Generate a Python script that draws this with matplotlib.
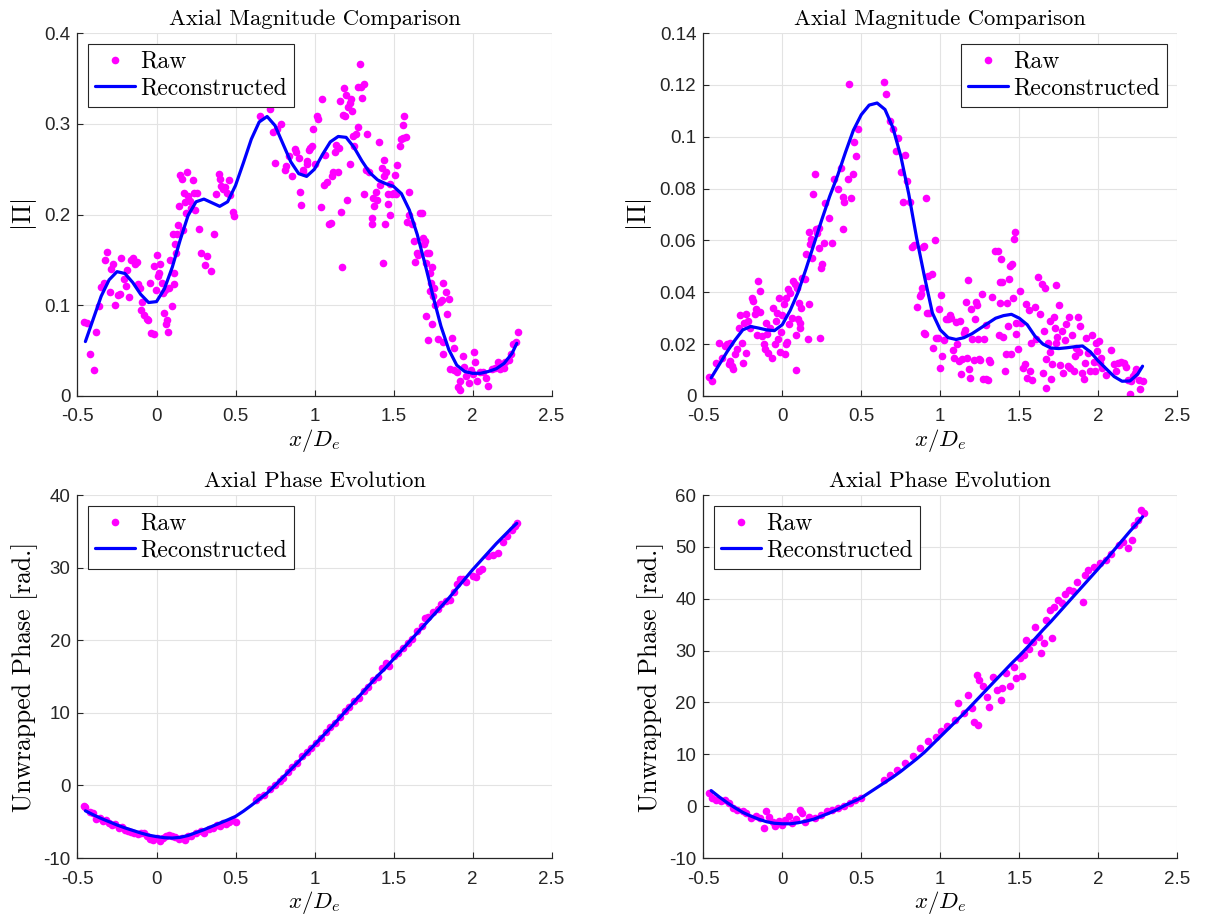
import numpy as np
import matplotlib
matplotlib.use("Agg")
import matplotlib.pyplot as plt
from matplotlib.ticker import FuncFormatter

curve_x = [-0.45, -0.40, -0.35, -0.30, -0.25, -0.20, -0.15, -0.10, -0.05, 0.00,
           0.05, 0.10, 0.15, 0.20, 0.25, 0.30, 0.35, 0.40, 0.45, 0.50,
           0.55, 0.60, 0.65, 0.70, 0.75, 0.80, 0.85, 0.90, 0.95, 1.00,
           1.05, 1.10, 1.15, 1.20, 1.25, 1.30, 1.35, 1.40, 1.45, 1.50,
           1.55, 1.60, 1.65, 1.70, 1.75, 1.80, 1.85, 1.90, 1.95, 2.00,
           2.05, 2.10, 2.15, 2.20, 2.25, 2.28]

mag1_fit = [0.060, 0.085, 0.110, 0.128, 0.137, 0.135, 0.125, 0.112, 0.103, 0.104,
            0.118, 0.142, 0.172, 0.199, 0.214, 0.217, 0.213, 0.209, 0.214, 0.232,
            0.257, 0.283, 0.302, 0.308, 0.298, 0.278, 0.258, 0.245, 0.242, 0.250,
            0.266, 0.280, 0.286, 0.285, 0.274, 0.259, 0.246, 0.238, 0.234, 0.231,
            0.223, 0.205, 0.178, 0.145, 0.110, 0.077, 0.051, 0.034, 0.027, 0.025,
            0.025, 0.027, 0.030, 0.036, 0.047, 0.058]

mag2_fit = [0.0070, 0.0120, 0.0170, 0.0215, 0.0255, 0.0268, 0.0262, 0.0255, 0.0252, 0.0275,
            0.033, 0.040, 0.049, 0.0585, 0.068, 0.077, 0.085, 0.094, 0.1025, 0.1085,
            0.1122, 0.1130, 0.1105, 0.1035, 0.0925, 0.078, 0.061, 0.046, 0.032, 0.0255,
            0.0225, 0.0218, 0.0225, 0.024, 0.026, 0.028, 0.030, 0.031, 0.0315, 0.030,
            0.0275, 0.023, 0.020, 0.0185, 0.0183, 0.0186, 0.019, 0.0193, 0.017, 0.0135,
            0.0105, 0.0075, 0.0057, 0.0058, 0.0085, 0.0115]

phase1_fit = [-3.5, -4.05, -4.55, -5.0, -5.45, -5.85, -6.2, -6.55, -6.85, -7.05,
              -7.2, -7.25, -7.15, -6.9, -6.5, -6.1, -5.65, -5.2, -4.75, -4.27,
              -3.55, -2.75, -1.9, -1.05, 0.0, 1.1, 2.2, 3.3, 4.45, 5.6,
              6.75, 7.9, 9.1, 10.3, 11.5, 12.7, 13.9, 15.1, 16.2, 17.4,
              18.6, 19.8, 21.0, 22.2, 23.4, 24.6, 25.8, 27.1, 28.4, 29.7,
              30.9, 32.1, 33.3, 34.4, 35.5, 36.1]

phase2_fit = [3.0, 1.8, 0.7, -0.3, -1.2, -1.9, -2.5, -3.0, -3.3, -3.4,
              -3.4, -3.2, -2.9, -2.5, -1.9, -1.3, -0.6, 0.2, 0.9, 1.6,
              2.6, 3.6, 4.6, 5.6, 6.7, 7.9, 9.1, 10.4, 11.9, 13.4,
              14.9, 16.4, 17.9, 19.5, 21.1, 22.7, 24.3, 25.9, 27.5, 29.0,
              30.6, 32.3, 34.0, 35.6, 37.3, 39.0, 40.7, 42.4, 44.1, 45.8,
              47.6, 49.4, 51.2, 53.0, 54.7, 55.8]

mag1_raw_x = [-0.457, -0.440, -0.419, -0.398, -0.381, -0.366, -0.351, -0.334, -0.323, -0.313,
              -0.296, -0.287, -0.274, -0.260, -0.245, -0.228, -0.223, -0.206, -0.196, -0.189,
              -0.174, -0.164, -0.147, -0.138, -0.121, -0.117, -0.104, -0.100, -0.089, -0.079,
              -0.062, -0.053, -0.040, -0.036, -0.019, -0.015, -0.004, 0.002, 0.011, 0.017,
              0.023, 0.032, 0.038, 0.049, 0.053, 0.060, 0.066, 0.074, 0.081, 0.087,
              0.096, 0.102, 0.109, 0.113, 0.117, 0.123, 0.130, 0.134, 0.145, 0.151,
              0.160, 0.166, 0.172, 0.181, 0.187, 0.194, 0.202, 0.209, 0.219, 0.230,
              0.236, 0.245, 0.257, 0.266, 0.283, 0.304, 0.321, 0.343, 0.364, 0.379,
              0.394, 0.402, 0.411, 0.421, 0.432, 0.443, 0.457, 0.464, 0.485, 0.491,
              0.657, 0.721, 0.736, 0.762, 0.789, 0.751, 0.811, 0.819, 0.840, 0.874,
              0.883, 0.904, 0.911, 0.917, 0.857, 0.926, 0.953, 0.974,
              0.930, 0.951, 0.968, 0.983, 0.989, 1.004, 1.015, 1.025, 1.040, 1.046,
              1.057, 1.068, 1.078, 1.089, 1.103, 1.110, 1.120, 1.131, 1.137, 1.146,
              1.158, 1.162, 1.167, 1.173, 1.179, 1.184, 1.194, 1.200, 1.205, 1.215,
              1.222, 1.226, 1.230, 1.236, 1.243, 1.251, 1.264, 1.272, 1.278, 1.289,
              1.293, 1.300, 1.310, 1.314, 1.327, 1.331, 1.342, 1.363, 1.363, 1.373,
              1.378, 1.390, 1.395, 1.407, 1.416, 1.426, 1.432, 1.437, 1.441, 1.447,
              1.454, 1.462, 1.468, 1.475, 1.479, 1.489, 1.500, 1.511, 1.517, 1.525,
              1.542, 1.546, 1.559, 1.563, 1.568, 1.580, 1.595, 1.595, 1.584, 1.616,
              1.631, 1.637, 1.648, 1.658, 1.669, 1.679, 1.686, 1.694, 1.700, 1.707,
              1.711, 1.722, 1.728, 1.736, 1.743, 1.732, 1.749, 1.757, 1.764, 1.795,
              1.806, 1.812, 1.833, 1.854, 1.707, 1.743, 1.715, 1.781, 1.838, 1.816,
              1.812, 1.869, 1.884, 1.859, 1.884, 1.901, 1.922, 1.905, 1.918, 1.939,
              1.949, 1.960, 1.975, 1.989, 2.002, 2.011, 2.017, 2.027, 2.049, 2.065,
              2.086, 2.101, 2.122, 2.143, 2.158, 2.175, 2.196, 2.207, 2.228, 2.243,
              2.259, 2.276, 2.287]
mag1_raw_y = [0.081, 0.080, 0.046, 0.029, 0.070, 0.099, 0.120, 0.125, 0.150, 0.159,
              0.115, 0.140, 0.145, 0.100, 0.111, 0.112, 0.152, 0.129, 0.121, 0.139,
              0.109, 0.150, 0.152, 0.145, 0.148, 0.123, 0.119, 0.095, 0.104, 0.089,
              0.085, 0.084, 0.125, 0.069, 0.068, 0.143, 0.117, 0.155, 0.132, 0.136,
              0.145, 0.125, 0.114, 0.092, 0.117, 0.079, 0.084, 0.070, 0.119, 0.150,
              0.099, 0.178, 0.136, 0.123, 0.167, 0.158, 0.179, 0.188, 0.209, 0.244,
              0.239, 0.183, 0.224, 0.214, 0.202, 0.247, 0.220, 0.215, 0.207, 0.238,
              0.224, 0.205, 0.224, 0.184, 0.158, 0.144, 0.154, 0.138, 0.178, 0.223,
              0.245, 0.239, 0.231, 0.228, 0.230, 0.224, 0.238, 0.221, 0.203, 0.198,
              0.308, 0.316, 0.291, 0.294, 0.300, 0.257, 0.249, 0.253, 0.264, 0.272,
              0.269, 0.262, 0.225, 0.211, 0.242, 0.249, 0.256, 0.273,
              0.247, 0.259, 0.271, 0.275, 0.294, 0.256, 0.308, 0.305, 0.208, 0.327,
              0.233, 0.266, 0.236, 0.189, 0.191, 0.242, 0.247, 0.269, 0.277, 0.247,
              0.273, 0.325, 0.203, 0.142, 0.310, 0.339, 0.308, 0.332, 0.216, 0.319,
              0.323, 0.256, 0.327, 0.314, 0.286, 0.275, 0.289, 0.341, 0.296, 0.366,
              0.341, 0.328, 0.344, 0.223, 0.249, 0.289, 0.247, 0.196, 0.189, 0.218,
              0.209, 0.225, 0.216, 0.280, 0.232, 0.251, 0.147, 0.242, 0.260, 0.189,
              0.247, 0.212, 0.223, 0.199, 0.234, 0.223, 0.224, 0.244, 0.223, 0.255,
              0.275, 0.283, 0.284, 0.299, 0.308, 0.285, 0.225, 0.200, 0.192, 0.190,
              0.171, 0.148, 0.158, 0.155, 0.202, 0.202, 0.174, 0.168, 0.171, 0.147,
              0.158, 0.158, 0.136, 0.124, 0.142, 0.116, 0.110, 0.119, 0.100, 0.104,
              0.106, 0.124, 0.115, 0.107, 0.088, 0.079, 0.062, 0.063, 0.090, 0.046,
              0.059, 0.064, 0.053, 0.030, 0.029, 0.026, 0.016, 0.010, 0.007, 0.044,
              0.032, 0.022, 0.014, 0.029, 0.024, 0.048, 0.038, 0.016, 0.026, 0.026,
              0.020, 0.011, 0.030, 0.031, 0.038, 0.030, 0.031, 0.038, 0.040, 0.046,
              0.057, 0.059, 0.070]

mag2_raw_x = [-0.462, -0.447, -0.420, -0.399, -0.384, -0.363, -0.349, -0.336, -0.332, -0.321,
              -0.315, -0.328, -0.300, -0.286, -0.273, -0.265, -0.258, -0.248, -0.244, -0.231,
              -0.227, -0.216, -0.202, -0.189, -0.185, -0.174, -0.168, -0.160, -0.153, -0.143,
              -0.139, -0.126, -0.118, -0.111, -0.101, -0.097, -0.090, -0.080, -0.063, -0.059,
              -0.048, -0.042, -0.034, -0.027, -0.021, -0.017, -0.006, 0.000, 0.008, 0.015,
              0.021, 0.025, 0.029, 0.036, 0.042, 0.050, 0.063, 0.067, 0.078, 0.084,
              0.088, 0.092, 0.099, 0.105, 0.109, 0.113, 0.120, 0.126, 0.141, 0.147,
              0.162, 0.168, 0.172, 0.176, 0.183, 0.189, 0.197, 0.204, 0.214, 0.218,
              0.231, 0.235, 0.239, 0.246, 0.252, 0.261, 0.273, 0.294, 0.315, 0.330,
              0.351, 0.372, 0.382, 0.387, 0.393, 0.414, 0.424, 0.435, 0.445, 0.456,
              0.466, 0.477, 0.645, 0.655, 0.681, 0.702, 0.718, 0.735, 0.750, 0.765,
              0.777, 0.792, 0.807, 0.824, 0.834, 0.855, 0.870, 0.887, 0.897, 0.893,
              0.908, 0.918, 0.924,
              0.880, 0.895, 0.901, 0.929, 0.949, 0.954, 0.964, 0.970, 0.985, 0.992,
              1.000, 1.006, 1.013, 1.021, 1.034, 1.049, 1.059, 1.070, 1.080, 1.089,
              1.097, 1.105, 1.118, 1.127, 1.133, 1.139, 1.148, 1.154, 1.160, 1.169,
              1.175, 1.181, 1.186, 1.196, 1.203, 1.211, 1.217, 1.228, 1.232, 1.238,
              1.245, 1.253, 1.262, 1.270, 1.274, 1.287, 1.291, 1.302, 1.308, 1.316,
              1.329, 1.344, 1.365, 1.371, 1.376, 1.380, 1.386, 1.392, 1.397, 1.407,
              1.414, 1.422, 1.430, 1.435, 1.443, 1.449, 1.456, 1.460, 1.464, 1.470,
              1.477, 1.481, 1.492, 1.502, 1.513, 1.523, 1.534, 1.540, 1.549, 1.561,
              1.565, 1.576, 1.582, 1.597, 1.603, 1.618, 1.633, 1.646, 1.650, 1.656,
              1.660, 1.667, 1.671, 1.681, 1.692, 1.696, 1.703, 1.709, 1.717, 1.724,
              1.730, 1.734, 1.738, 1.751, 1.755, 1.772, 1.776, 1.787, 1.797, 1.808,
              1.814, 1.823, 1.835, 1.844, 1.850, 1.861, 1.871, 1.878, 1.886, 1.899,
              1.907, 1.913, 1.924, 1.935, 1.945, 1.962, 1.970, 1.977, 1.983, 1.992,
              2.004, 2.008, 2.019, 2.025, 2.046, 2.082, 2.097, 2.114, 2.124, 2.146,
              2.160, 2.173, 2.188, 2.198, 2.209, 2.219, 2.230, 2.241, 2.257, 2.266,
              2.283]
mag2_raw_y = [0.0075, 0.0058, 0.0126, 0.0206, 0.0148, 0.0193, 0.0199, 0.0122, 0.0135, 0.0116,
              0.0103, 0.0206, 0.0161, 0.0180, 0.0263, 0.0311, 0.0203, 0.0126, 0.0280, 0.0315,
              0.0167, 0.0289, 0.0263, 0.0379, 0.0366, 0.0315, 0.0337, 0.0234, 0.0443, 0.0405,
              0.0324, 0.0231, 0.0199, 0.0183, 0.0280, 0.0238, 0.0167, 0.0263, 0.0148, 0.0341,
              0.0199, 0.0289, 0.0321, 0.0221, 0.0379, 0.0170, 0.0247, 0.0311, 0.0353, 0.0161,
              0.0199, 0.0379, 0.0208, 0.0411, 0.0276, 0.0398, 0.0302, 0.0443, 0.0431, 0.0234,
              0.0100, 0.0418, 0.0298, 0.0360, 0.0283, 0.0263, 0.0341, 0.0456, 0.0452, 0.0546,
              0.0219, 0.0353, 0.0632, 0.0585, 0.0604, 0.0533, 0.0778, 0.0855, 0.0645, 0.0627,
              0.0649, 0.0572, 0.0225, 0.0495, 0.0508, 0.0591, 0.0746, 0.0688, 0.0591, 0.0838,
              0.0797, 0.0880, 0.0643, 0.0769, 0.0748, 0.0838, 0.1202, 0.0765, 0.0857, 0.0979,
              0.0925, 0.1028, 0.1212, 0.1163, 0.1060, 0.1028, 0.0945, 0.0996, 0.0864, 0.0748,
              0.0928, 0.0829, 0.0748, 0.0576, 0.0581, 0.0344, 0.0386, 0.0418, 0.0242, 0.0576,
              0.0762, 0.0319, 0.0463,
              0.0392, 0.0578, 0.0238, 0.0321, 0.0469, 0.0186, 0.0602, 0.0225, 0.0225, 0.0334,
              0.0109, 0.0389, 0.0154, 0.0216, 0.0296, 0.0296, 0.0311, 0.0302, 0.0177, 0.0148,
              0.0285, 0.0199, 0.0135, 0.0289, 0.0084, 0.0141, 0.0244, 0.0254, 0.0362, 0.0148,
              0.0447, 0.0105, 0.0071, 0.0334, 0.0221, 0.0139, 0.0296, 0.0362, 0.0350, 0.0219,
              0.0141, 0.0139, 0.0392, 0.0064, 0.0219, 0.0272, 0.0067, 0.0062, 0.0139, 0.0131,
              0.0383, 0.0559, 0.0559, 0.0234, 0.0357, 0.0440, 0.0530, 0.0440, 0.0229, 0.0096,
              0.0161, 0.0357, 0.0270, 0.0450, 0.0501, 0.0161, 0.0511, 0.0379, 0.0604, 0.0632,
              0.0238, 0.0280, 0.0180, 0.0405, 0.0283, 0.0109, 0.0122, 0.0353, 0.0071, 0.0332,
              0.0096, 0.0206, 0.0062, 0.0344, 0.0219, 0.0460, 0.0315, 0.0431, 0.0087, 0.0251,
              0.0418, 0.0032, 0.0141, 0.0203, 0.0289, 0.0170, 0.0067, 0.0122, 0.0306, 0.0263,
              0.0203, 0.0427, 0.0229, 0.0350, 0.0118, 0.0251, 0.0087, 0.0216, 0.0276, 0.0116,
              0.0306, 0.0109, 0.0234, 0.0096, 0.0154, 0.0186, 0.0306, 0.0170, 0.0270, 0.0090,
              0.0067, 0.0126, 0.0225, 0.0165, 0.0096, 0.0234, 0.0131, 0.0096, 0.0206, 0.0174,
              0.0212, 0.0129, 0.0148, 0.0109, 0.0080, 0.0177, 0.0122, 0.0096, 0.0129, 0.0131,
              0.0129, 0.0113, 0.0062, 0.0006, 0.0058, 0.0077, 0.0090, 0.0105, 0.0062, 0.0026,
              0.0058]

phase1_raw_x = [-0.46, -0.45, -0.42, -0.40, -0.38, -0.36, -0.34, -0.32, -0.30, -0.28,
                -0.26, -0.24, -0.22, -0.20, -0.18, -0.16, -0.14, -0.12, -0.10, -0.08,
                -0.06, -0.04, -0.02, 0.00, 0.02, 0.04, 0.06, 0.08, 0.10, 0.12,
                0.14, 0.16, 0.18, 0.20, 0.22, 0.25, 0.28, 0.30, 0.33, 0.36,
                0.38, 0.40, 0.42, 0.44, 0.46, 0.48, 0.50, 0.63, 0.65, 0.68,
                0.72, 0.75, 0.78, 0.80, 0.83, 0.86, 0.89, 0.92, 0.95, 0.98,
                1.01, 1.04, 1.07, 1.10, 1.13, 1.16, 1.19, 1.22, 1.25, 1.28,
                1.31, 1.34, 1.37, 1.40, 1.43, 1.45, 1.47, 1.50, 1.53, 1.56,
                1.59, 1.62, 1.65, 1.68, 1.70, 1.72, 1.75, 1.78, 1.80, 1.83,
                1.86, 1.88, 1.90, 1.92, 1.94, 1.96, 2.00, 2.02, 2.04, 2.06,
                2.10, 2.13, 2.16, 2.19, 2.22, 2.25, 2.27, 2.28]
phase1_raw_y = [-2.8, -3.0, -3.6, -3.8, -4.6, -4.5, -4.9, -4.8, -5.2, -5.4,
                -5.3, -5.8, -5.7, -6.1, -6.3, -6.4, -6.6, -6.7, -6.6, -6.5,
                -6.9, -7.4, -7.5, -7.3, -7.7, -7.2, -6.9, -6.8, -7.0, -7.1,
                -7.4, -7.2, -7.5, -7.0, -6.9, -6.6, -6.3, -6.5, -6.0, -5.8,
                -5.5, -5.6, -5.2, -5.3, -5.0, -4.8, -5.0, -2.0, -1.6, -1.3,
                -0.5, 0.0, 0.6, 1.0, 1.8, 2.6, 3.1, 4.0, 4.6, 5.2,
                5.9, 6.5, 7.3, 8.0, 8.6, 9.4, 10.2, 10.8, 11.6, 12.0,
                13.0, 13.5, 14.5, 15.0, 16.2, 16.8, 16.5, 17.8, 18.2, 18.9,
                19.6, 20.2, 21.3, 22.0, 23.0, 23.2, 23.9, 24.3, 25.0, 25.4,
                25.6, 26.6, 27.8, 28.4, 28.5, 28.0, 28.8, 28.7, 29.6, 29.8,
                31.6, 31.8, 32.0, 33.5, 34.4, 35.2, 35.8, 36.1]

phase2_raw_x = [-0.461, -0.444, -0.420, -0.390, -0.360, -0.336, -0.310, -0.287, -0.250, -0.227,
                -0.195, -0.166, -0.142, -0.118, -0.106, -0.082, -0.058, -0.045, -0.021, 0.000,
                0.019, 0.044, 0.061, 0.085, 0.110, 0.122, 0.146, 0.170, 0.207, 0.245,
                0.281, 0.317, 0.353, 0.390, 0.426, 0.462, 0.497, 0.644, 0.680, 0.728,
                0.777, 0.825, 0.873, 0.922, 0.970, 1.006, 1.042, 1.091, 1.115, 1.151,
                1.175, 1.200, 1.212, 1.236, 1.231, 1.248, 1.272, 1.296, 1.309, 1.333,
                1.357, 1.381, 1.393, 1.417, 1.441, 1.466, 1.478, 1.502, 1.514, 1.531,
                1.545, 1.562, 1.587, 1.599, 1.623, 1.635, 1.659, 1.671, 1.696, 1.708,
                1.720, 1.744, 1.768, 1.792, 1.816, 1.840, 1.865, 1.901, 1.913, 1.937,
                1.974, 2.010, 2.046, 2.082, 2.131, 2.155, 2.191, 2.215, 2.227, 2.251,
                2.270, 2.288]
phase2_raw_y = [2.5, 1.5, 1.2, 0.9, 1.1, 0.6, -0.4, -0.7, -1.0, -1.3,
                -2.3, -1.9, -2.3, -4.2, -1.0, -2.0, -3.0, -3.9, -2.8, -3.6,
                -2.6, -1.9, -3.3, -2.5, -0.7, -1.3, -3.0, -2.0, -2.3, -1.7,
                -1.0, -0.8, -0.4, 0.1, 0.6, 1.1, 1.5, 5.1, 6.0, 7.0,
                8.3, 9.6, 11.2, 12.5, 13.4, 14.4, 15.4, 16.6, 19.8, 17.9,
                21.5, 18.9, 16.3, 15.7, 25.3, 24.3, 23.1, 21.1, 19.2, 25.0,
                22.4, 20.5, 22.7, 25.6, 23.1, 26.9, 24.7, 28.5, 25.1, 29.2,
                32.0, 30.4, 31.7, 34.6, 32.7, 29.5, 31.4, 35.9, 37.8, 32.4,
                38.5, 39.8, 39.1, 41.0, 41.7, 41.4, 43.3, 39.4, 44.6, 45.5,
                46.2, 46.8, 47.5, 48.7, 50.4, 51.0, 49.7, 51.3, 54.2, 55.2,
                57.1, 56.5]

# --- style ---
plt.rcParams["font.family"] = "Liberation Sans"
plt.rcParams["mathtext.fontset"] = "cm"
plt.rcParams["axes.unicode_minus"] = False

CM = "cmr10"
RAW_COLOR = "#ff00ff"
FIT_COLOR = "#0000ff"
AX_COLOR = "#262626"

fmt = FuncFormatter(lambda v, p: "%g" % round(v, 6))


def style_axes(ax, ylim, yticks, title, ylabel, legend_loc):
    ax.set_xlim(-0.5, 2.5)
    ax.set_ylim(*ylim)
    ax.set_xticks([-0.5, 0, 0.5, 1, 1.5, 2, 2.5])
    ax.set_yticks(yticks)
    ax.xaxis.set_major_formatter(fmt)
    ax.yaxis.set_major_formatter(fmt)
    ax.grid(True, color="#e3e3e3", linewidth=0.8)
    ax.set_axisbelow(True)
    for side in ["top", "right"]:
        ax.spines[side].set_visible(False)
    for side in ["left", "bottom"]:
        ax.spines[side].set_color(AX_COLOR)
        ax.spines[side].set_linewidth(0.9)
    ax.tick_params(direction="in", length=4, width=0.8, colors=AX_COLOR,
                   labelsize=13.5)
    ax.tick_params(axis="x", pad=9)
    ax.tick_params(axis="y", pad=5)
    ax.set_title(title, fontfamily=CM, fontsize=16.3, pad=6)
    ax.set_xlabel(r"$x/D_e$", fontsize=16.5, labelpad=1)
    ax.set_ylabel(ylabel, fontfamily=CM, fontsize=18.5, labelpad=4)
    leg = ax.legend(loc=legend_loc, prop={"family": CM, "size": 17},
                    fancybox=False, edgecolor="#262626", framealpha=1,
                    borderaxespad=0.45, numpoints=1, handlelength=1.7,
                    handletextpad=0.2, borderpad=0.3, labelspacing=0.2)
    leg.get_frame().set_linewidth(0.8)


fig = plt.figure(figsize=(12.09, 9.22), dpi=100)
w, h = 0.3921, 0.3937
ax1 = fig.add_axes([0.0641, 0.5705, w, h])
ax2 = fig.add_axes([0.5817, 0.5705, w, h])
ax3 = fig.add_axes([0.0641, 0.0694, w, h])
ax4 = fig.add_axes([0.5817, 0.0694, w, h])

panels = [
    (ax1, mag1_raw_x, mag1_raw_y, mag1_fit, (0, 0.4), [0, 0.1, 0.2, 0.3, 0.4],
     "Axial Magnitude Comparison", r"$|\Pi|$", "upper left"),
    (ax2, mag2_raw_x, mag2_raw_y, mag2_fit, (0, 0.14),
     [0, 0.02, 0.04, 0.06, 0.08, 0.1, 0.12, 0.14],
     "Axial Magnitude Comparison", r"$|\Pi|$", "upper right"),
    (ax3, phase1_raw_x, phase1_raw_y, phase1_fit, (-10, 40),
     [-10, 0, 10, 20, 30, 40],
     "Axial Phase Evolution", "Unwrapped Phase [rad.]", "upper left"),
    (ax4, phase2_raw_x, phase2_raw_y, phase2_fit, (-10, 60),
     [-10, 0, 10, 20, 30, 40, 50, 60],
     "Axial Phase Evolution", "Unwrapped Phase [rad.]", "upper left"),
]

for ax, rx, ry, fit, ylim, yticks, title, ylabel, loc in panels:
    ax.plot(rx, ry, "o", color=RAW_COLOR, markersize=5.5, markeredgewidth=0,
            label="Raw", zorder=2)
    ax.plot(curve_x, fit, "-", color=FIT_COLOR, linewidth=2.3,
            solid_joinstyle="round", solid_capstyle="round",
            label="Reconstructed", zorder=3)
    style_axes(ax, ylim, yticks, title, ylabel, loc)

fig.savefig("out.png", dpi=100)
